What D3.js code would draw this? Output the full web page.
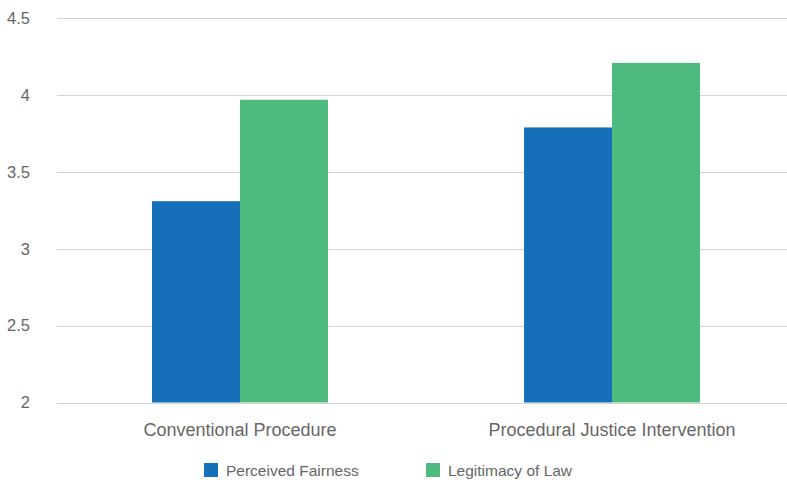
<!DOCTYPE html>
<html><head><meta charset="utf-8">
<script src="https://cdn.jsdelivr.net/npm/d3@7"></script>
<style>body{margin:0;background:#fff}svg{display:block;font-family:"Liberation Sans",Arial,sans-serif}</style>
</head><body><svg id="c" width="787" height="480"></svg>
<script>
const categories = ["Conventional Procedure", "Procedural Justice Intervention"];
const seriesNames = ["Perceived Fairness", "Legitimacy of Law"];
const perceivedFairness = [3.31, 3.79];
const legitimacyOfLaw = [3.97, 4.21];
const yTicks = [2, 2.5, 3, 3.5, 4, 4.5];
const colors = ["#1570b9", "#4fbb7e"];

const svg = d3.select("#c");
const y = d3.scaleLinear().domain([2, 4.5]).range([402.5, 18.3]);
const x0 = d3.scaleBand().domain(categories).range([54, 798]).paddingInner(0).paddingOuter(0);
const x1 = d3.scaleBand().domain(seriesNames).range([0, 176]);
const values = [perceivedFairness, legitimacyOfLaw];

// gridlines
svg.append("g").selectAll("line").data(yTicks).join("line")
  .attr("x1", 57).attr("x2", 787)
  .attr("y1", d => Math.round(y(d)) + 0.5).attr("y2", d => Math.round(y(d)) + 0.5)
  .attr("stroke", "#d4d4d4").attr("stroke-width", 1);

// y labels
svg.append("g").selectAll("text").data(yTicks).join("text")
  .attr("x", 30).attr("y", d => y(d) + 5.8)
  .attr("text-anchor", "end").attr("font-size", 16.5).attr("fill", "#666")
  .text(d => d);

// bars
const groups = svg.append("g").selectAll("g").data(categories).join("g")
  .attr("transform", c => `translate(${x0(c) + x0.bandwidth()/2 - 88},0)`);
groups.selectAll("rect").data((c, i) => seriesNames.map((s, j) => ({s, v: values[j][i], j})))
  .join("rect")
  .attr("x", d => x1(d.s)).attr("width", x1.bandwidth())
  .attr("y", d => y(d.v)).attr("height", d => y(2) - y(d.v))
  .attr("fill", d => colors[d.j]);

// category labels
svg.append("g").selectAll("text").data(categories).join("text")
  .attr("x", c => x0(c) + x0.bandwidth()/2).attr("y", 436)
  .attr("text-anchor", "middle").attr("font-size", 18).attr("fill", "#666")
  .text(c => c);

// legend
const legX = [204, 426];
const leg = svg.append("g").selectAll("g").data(seriesNames).join("g")
  .attr("transform", (d, i) => `translate(${legX[i]},463)`);
leg.append("rect").attr("width", 14).attr("height", 14).attr("fill", (d, i) => colors[i]);
leg.append("text").attr("x", 22).attr("y", 12.5).attr("font-size", 15.5).attr("fill", "#666").text(d => d);
</script></body></html>
